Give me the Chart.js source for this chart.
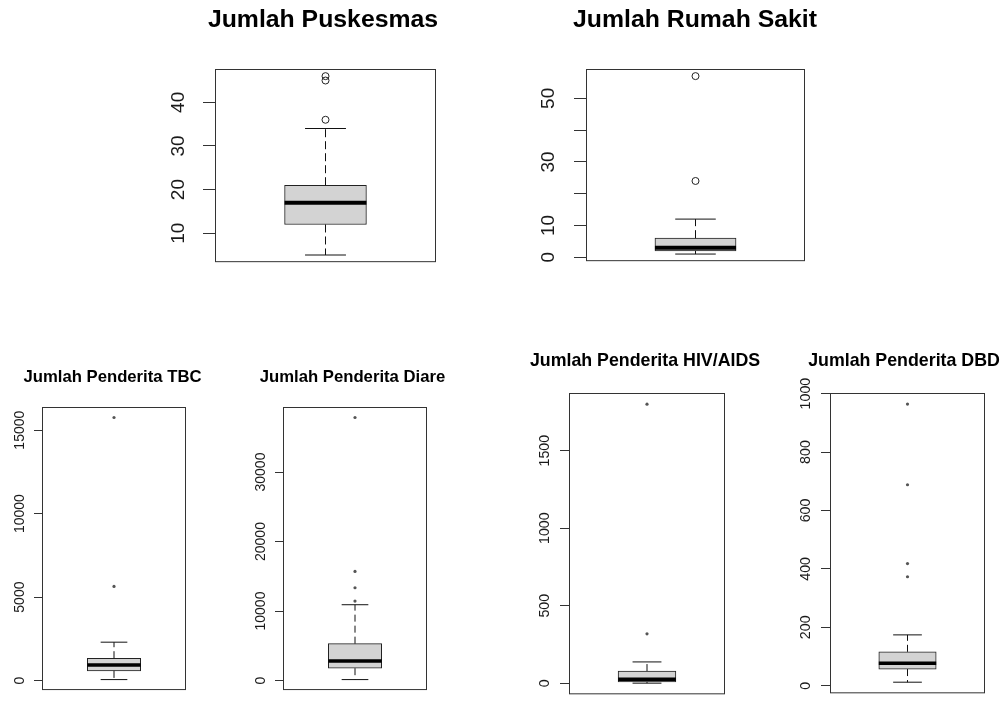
<!DOCTYPE html>
<html>
<head>
<meta charset="utf-8">
<script src="https://cdn.jsdelivr.net/npm/chart.js@4.4.1/dist/chart.umd.min.js"></script>
<style>
html,body{margin:0;padding:0;background:#fff;overflow:hidden;width:1005px;height:702px;position:relative}
canvas{position:absolute}
</style>
</head>
<body>
<script>
// ---------------- data (five-number summaries: low whisker, Q1, median, Q3, high whisker) -------------
const PUSK_TITLE = 'Jumlah Puskesmas';
const PUSK_FIVE = [5, 12, 17, 21, 34];
const PUSK_OUTLIERS = [36, 45, 46];
const PUSK_TICKS = [10, 20, 30, 40];
const PUSK_TICK_LABELS = ['10', '20', '30', '40'];

const RS_TITLE = 'Jumlah Rumah Sakit';
const RS_FIVE = [1, 2, 3, 6, 12];
const RS_OUTLIERS = [24, 57];
const RS_TICKS = [0, 10, 20, 30, 40, 50];
const RS_TICK_LABELS = ['0', '10', '', '30', '', '50'];

const TBC_TITLE = 'Jumlah Penderita TBC';
const TBC_FIVE = [60, 580, 940, 1340, 2300];
const TBC_OUTLIERS = [5640, 15760];
const TBC_TICKS = [0, 5000, 10000, 15000];
const TBC_TICK_LABELS = ['0', '5000', '10000', '15000'];

const DIARE_TITLE = 'Jumlah Penderita Diare';
const DIARE_FIVE = [140, 1780, 2830, 5310, 10910];
const DIARE_OUTLIERS = [11440, 13350, 15700, 37850];
const DIARE_TICKS = [0, 10000, 20000, 30000];
const DIARE_TICK_LABELS = ['0', '10000', '20000', '30000'];

const HIV_TITLE = 'Jumlah Penderita HIV/AIDS';
const HIV_FIVE = [0, 8, 25, 78, 137];
const HIV_OUTLIERS = [318, 1800];
const HIV_TICKS = [0, 500, 1000, 1500];
const HIV_TICK_LABELS = ['0', '500', '1000', '1500'];

const DBD_TITLE = 'Jumlah Penderita DBD';
const DBD_FIVE = [12, 57, 77, 116, 174];
const DBD_OUTLIERS = [373, 418, 688, 964];
const DBD_TICKS = [0, 200, 400, 600, 800, 1000];
const DBD_TICK_LABELS = ['0', '200', '400', '600', '800', '1000'];

// ---------------- styles / geometry ----------------
const FONT = "'Liberation Sans', Arial, sans-serif";
const STYLE_TOP = {titleSize: 24.8, tickSize: 19, tl: 12, median: 4, outR: 3.5, outFill: false, dash: [8, 4]};
const STYLE_BL  = {titleSize: 16.7, tickSize: 14, tl: 8, median: 3.5, outR: 1.6, outFill: true, dash: [7, 4]};
const STYLE_BR  = {titleSize: 17.8, tickSize: 14.3, tl: 9, median: 3.5, outR: 1.6, outFill: true, dash: [7, 4]};

const X_MIN = 0.46, X_MAX = 1.54, BOX_HALF = 0.2, CAP_HALF = 0.1;

const framePlugin = {
  id: 'frame',
  afterDatasetsDraw(chart) {
    const {ctx, chartArea: a} = chart;
    ctx.save();
    ctx.strokeStyle = '#333';
    ctx.lineWidth = 1;
    ctx.strokeRect(a.left + 0.5, a.top + 0.5, a.right - a.left - 1, a.bottom - a.top - 1);
    ctx.restore();
  }
};

function measureWidest(texts, size) {
  const c = document.createElement('canvas').getContext('2d');
  c.font = 'normal ' + size + 'px ' + FONT;
  return Math.max(...texts.map(t => c.measureText(t).width));
}

function makePanel(title, five, outliers, ticks, tickLabels, g, st) {
  const [lo, q1, med, q3, hi] = five;
  const dmin = Math.min(lo, ...outliers);
  const dmax = Math.max(hi, ...outliers);
  const ext = 0.04 * (dmax - dmin);

  const canvasLeft = g.L - g.A;
  const W = Math.round(2 * (g.cx - canvasLeft));
  const M = canvasLeft + W - g.R;
  const pt = 2;
  const canvasTop = Math.round(g.ty - pt - st.titleSize / 2);
  const pb = g.T - canvasTop - pt - st.titleSize;
  const H = g.B - canvasTop + 1;

  const widest = measureWidest(tickLabels, st.tickSize);
  const tickPad = g.D - st.tl - widest / 2;
  const boxPx = (2 * BOX_HALF) / (X_MAX - X_MIN) * (g.R - g.L);

  const cv = document.createElement('canvas');
  cv.width = W; cv.height = H;
  cv.style.left = canvasLeft + 'px'; cv.style.top = canvasTop + 'px';
  cv.style.width = W + 'px'; cv.style.height = H + 'px';
  document.body.appendChild(cv);

  const lineDs = (pts, extra) => Object.assign({
    type: 'line', xAxisID: 'x', yAxisID: 'y', data: pts, order: 0,
    borderColor: '#111', borderWidth: 1, pointRadius: 0, fill: false, tension: 0
  }, extra || {});

  new Chart(cv, {
    type: 'bar',
    data: {
      datasets: [
        lineDs([{x: 1 - BOX_HALF, y: med}, {x: 1 + BOX_HALF, y: med}], {borderWidth: st.median, borderColor: '#000'}),
        lineDs([{x: 1, y: q3}, {x: 1, y: hi}], {borderDash: st.dash}),
        lineDs([{x: 1, y: q1}, {x: 1, y: lo}], {borderDash: st.dash}),
        lineDs([{x: 1 - CAP_HALF, y: hi}, {x: 1 + CAP_HALF, y: hi}]),
        lineDs([{x: 1 - CAP_HALF, y: lo}, {x: 1 + CAP_HALF, y: lo}]),
        lineDs(outliers.map(v => ({x: 1, y: v})), {
          showLine: false, pointRadius: st.outR, pointHoverRadius: st.outR, pointStyle: 'circle',
          pointBorderWidth: st.outFill ? 0 : 1, pointBorderColor: '#222',
          pointBackgroundColor: st.outFill ? '#555' : 'rgba(0,0,0,0)'
        }),
        {type: 'bar', xAxisID: 'x', yAxisID: 'y', data: [{x: 1, y: [q1, q3]}], order: 5,
         backgroundColor: '#d3d3d3', borderColor: '#222', borderWidth: 1, borderSkipped: false,
         grouped: false, barThickness: boxPx, maxBarThickness: boxPx}
      ]
    },
    options: {
      responsive: false, devicePixelRatio: 1, animation: false,
      layout: {padding: {left: 0, right: 0, top: 0, bottom: 1}},
      plugins: {
        legend: {display: false}, tooltip: {enabled: false},
        title: {display: true, text: title, color: '#000',
                font: {family: FONT, size: st.titleSize, weight: 'bold', lineHeight: 1},
                padding: {top: pt, bottom: pb}}
      },
      scales: {
        x: {type: 'linear', display: false, min: X_MIN, max: X_MAX, offset: false},
        y: {type: 'linear', position: 'left', min: dmin - ext, max: dmax + ext,
            afterBuildTicks: s => { s.ticks = ticks.map(v => ({value: v})); },
            afterFit: s => { s.width = g.A; },
            grid: {display: true, drawOnChartArea: false, drawTicks: true, tickLength: st.tl, color: '#333', lineWidth: 1},
            border: {display: false},
            ticks: {autoSkip: false, minRotation: 90, maxRotation: 90, crossAlign: 'center',
                    padding: tickPad, color: '#1a1a1a', font: {family: FONT, size: st.tickSize},
                    callback: (v, i) => tickLabels[i]}},
        yr: {type: 'linear', position: 'right', display: true,
             grid: {display: false}, border: {display: false}, ticks: {display: false},
             afterFit: s => { s.width = M; }}
      }
    },
    plugins: [framePlugin]
  });
}

makePanel(PUSK_TITLE, PUSK_FIVE, PUSK_OUTLIERS, PUSK_TICKS, PUSK_TICK_LABELS,
  {L: 215, T: 69, R: 436, B: 286, cx: 323, ty: 20, A: 55, D: 36}, STYLE_TOP);
makePanel(RS_TITLE, RS_FIVE, RS_OUTLIERS, RS_TICKS, RS_TICK_LABELS,
  {L: 586, T: 69, R: 805, B: 286, cx: 695, ty: 20, A: 55, D: 37}, STYLE_TOP);
makePanel(TBC_TITLE, TBC_FIVE, TBC_OUTLIERS, TBC_TICKS, TBC_TICK_LABELS,
  {L: 42, T: 407, R: 186, B: 692, cx: 112.5, ty: 377.5, A: 40, D: 22}, STYLE_BL);
makePanel(DIARE_TITLE, DIARE_FIVE, DIARE_OUTLIERS, DIARE_TICKS, DIARE_TICK_LABELS,
  {L: 283, T: 407, R: 427, B: 692, cx: 352.5, ty: 377.5, A: 40, D: 22}, STYLE_BL);
makePanel(HIV_TITLE, HIV_FIVE, HIV_OUTLIERS, HIV_TICKS, HIV_TICK_LABELS,
  {L: 569, T: 393, R: 725, B: 701, cx: 645, ty: 361, A: 40, D: 24}, STYLE_BR);
makePanel(DBD_TITLE, DBD_FIVE, DBD_OUTLIERS, DBD_TICKS, DBD_TICK_LABELS,
  {L: 830, T: 393, R: 985, B: 700, cx: 904, ty: 361, A: 40, D: 24}, STYLE_BR);
</script>
</body>
</html>
